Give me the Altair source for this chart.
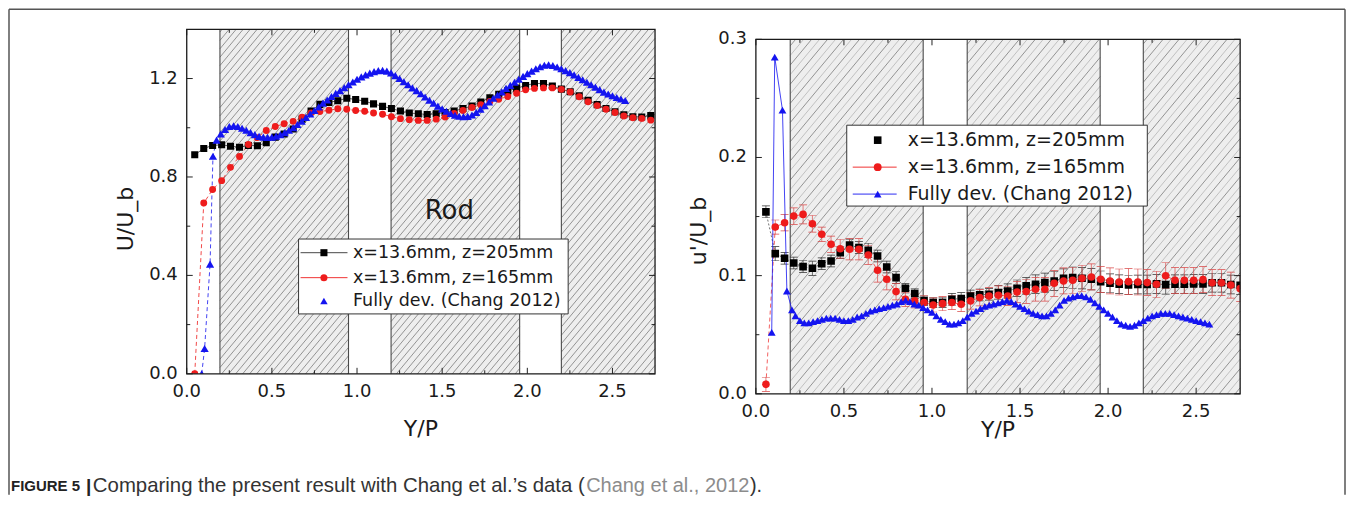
import altair as alt
import numpy as np
import pandas as pd

FONT = "DejaVu Sans"
TXT = "#1a1a1a"

# ---------------- data: left panel (U/U_b) ----------------
yp_exp_u = [0.047, 0.100, 0.152, 0.205, 0.257, 0.310, 0.362, 0.415, 0.467, 0.520,
            0.572, 0.625, 0.677, 0.730, 0.782, 0.835, 0.887, 0.940, 0.992, 1.045,
            1.097, 1.150, 1.202, 1.255, 1.307, 1.360, 1.412, 1.465, 1.517, 1.570,
            1.622, 1.675, 1.727, 1.780, 1.832, 1.885, 1.937, 1.990, 2.042, 2.095,
            2.147, 2.200, 2.252, 2.305, 2.357, 2.410, 2.462, 2.515, 2.567, 2.620,
            2.672, 2.725]
u_z205 = [0.890, 0.916, 0.928, 0.931, 0.925, 0.921, 0.928, 0.927, 0.939, 0.962,
          0.975, 0.995, 1.035, 1.068, 1.095, 1.103, 1.110, 1.120, 1.115, 1.108,
          1.097, 1.087, 1.078, 1.068, 1.060, 1.057, 1.054, 1.057, 1.062, 1.068,
          1.078, 1.088, 1.105, 1.122, 1.136, 1.150, 1.160, 1.172, 1.180, 1.180,
          1.170, 1.157, 1.146, 1.130, 1.112, 1.094, 1.078, 1.065, 1.053, 1.045,
          1.044, 1.050]
u_z165 = [0.000, 0.694, 0.749, 0.785, 0.839, 0.883, 0.932, 0.960, 0.989, 1.005,
          1.016, 1.026, 1.043, 1.060, 1.066, 1.071, 1.077, 1.075, 1.070, 1.067,
          1.060, 1.055, 1.045, 1.037, 1.033, 1.030, 1.030, 1.035, 1.044, 1.058,
          1.070, 1.082, 1.094, 1.107, 1.116, 1.127, 1.140, 1.154, 1.160, 1.162,
          1.162, 1.156, 1.145, 1.126, 1.106, 1.090, 1.075, 1.062, 1.048, 1.041,
          1.038, 1.031]
yp_chang_u = [0.088, 0.105, 0.137, 0.154,
              0.175, 0.200, 0.225, 0.250, 0.275, 0.300, 0.325, 0.350, 0.375, 0.400,
              0.425, 0.450, 0.475, 0.500, 0.525, 0.550, 0.575, 0.600, 0.625, 0.650,
              0.675, 0.700, 0.725, 0.750, 0.775, 0.800, 0.825, 0.850, 0.875, 0.900,
              0.925, 0.950, 0.975, 1.000, 1.025, 1.050, 1.075, 1.100, 1.125, 1.150,
              1.175, 1.200, 1.225, 1.250, 1.275, 1.300, 1.325, 1.350, 1.375, 1.400,
              1.425, 1.450, 1.475, 1.500, 1.525, 1.550, 1.575, 1.600, 1.625, 1.650,
              1.675, 1.700, 1.725, 1.750, 1.775, 1.800, 1.825, 1.850, 1.875, 1.900,
              1.925, 1.950, 1.975, 2.000, 2.025, 2.050, 2.075, 2.100, 2.125, 2.150,
              2.175, 2.200, 2.225, 2.250, 2.275, 2.300, 2.325, 2.350, 2.375, 2.400,
              2.425, 2.450, 2.475, 2.500, 2.525, 2.550, 2.575]
u_chang = [0.000, 0.103, 0.446, 0.884,
           0.950, 0.975, 0.993, 1.005, 1.008, 1.005, 0.998, 0.990, 0.980, 0.972,
           0.965, 0.962, 0.961, 0.962, 0.966, 0.972, 0.980, 0.990, 1.000, 1.013,
           1.027, 1.042, 1.056, 1.070, 1.085, 1.100, 1.113, 1.127, 1.140, 1.151,
           1.163, 1.175, 1.186, 1.197, 1.207, 1.215, 1.222, 1.228, 1.232, 1.233,
           1.230, 1.223, 1.212, 1.200, 1.187, 1.175, 1.162, 1.151, 1.138, 1.125,
           1.112, 1.100, 1.088, 1.077, 1.067, 1.058, 1.051, 1.047, 1.045, 1.046,
           1.052, 1.062, 1.075, 1.090, 1.105, 1.120, 1.133, 1.146, 1.160, 1.172,
           1.185, 1.197, 1.209, 1.220, 1.230, 1.240, 1.248, 1.254, 1.256, 1.253,
           1.247, 1.240, 1.232, 1.224, 1.215, 1.205, 1.195, 1.185, 1.175, 1.165,
           1.155, 1.145, 1.137, 1.130, 1.123, 1.117, 1.111]

# ---------------- data: right panel (u'/U_b) ----------------
yp_exp_up = [0.057, 0.110, 0.163, 0.215, 0.268, 0.321, 0.374, 0.427, 0.479, 0.532,
             0.585, 0.638, 0.691, 0.743, 0.796, 0.849, 0.902, 0.955, 1.007, 1.060,
             1.113, 1.166, 1.219, 1.271, 1.324, 1.377, 1.430, 1.483, 1.535, 1.588,
             1.641, 1.694, 1.747, 1.799, 1.852, 1.905, 1.958, 2.011, 2.063, 2.116,
             2.169, 2.222, 2.275, 2.327, 2.380, 2.433, 2.486, 2.539, 2.591, 2.644,
             2.697, 2.750]
up_z205 = [0.1540, 0.1186, 0.1147, 0.1107, 0.1076, 0.1062, 0.1101, 0.1124, 0.1194, 0.1259,
           0.1237, 0.1214, 0.1166, 0.1073, 0.0983, 0.0893, 0.0848, 0.0786, 0.0772, 0.0772,
           0.0800, 0.0806, 0.0828, 0.0837, 0.0842, 0.0856, 0.0870, 0.0893, 0.0913, 0.0927,
           0.0941, 0.0955, 0.0978, 0.0983, 0.0978, 0.0969, 0.0949, 0.0935, 0.0927, 0.0921,
           0.0925, 0.0925, 0.0930, 0.0924, 0.0927, 0.0927, 0.0930, 0.0930, 0.0940, 0.0940,
           0.0925, 0.0919]
up_z205_err = [0.005, 0.006, 0.005, 0.005, 0.005, 0.006, 0.005, 0.005, 0.005, 0.005,
               0.005, 0.006, 0.005, 0.005, 0.005, 0.004, 0.004, 0.004, 0.004, 0.004,
               0.005, 0.005, 0.005, 0.005, 0.005, 0.006, 0.006, 0.007, 0.007, 0.008,
               0.008, 0.008, 0.008, 0.009, 0.009, 0.009, 0.009, 0.008, 0.008, 0.008,
               0.008, 0.008, 0.008, 0.008, 0.008, 0.008, 0.008, 0.008, 0.008, 0.008,
               0.008, 0.008]
up_z165 = [0.0080, 0.1411, 0.1448, 0.1504, 0.1518, 0.1439, 0.1350, 0.1265, 0.1228, 0.1223,
           0.1223, 0.1175, 0.1045, 0.0969, 0.0865, 0.0800, 0.0786, 0.0772, 0.0752, 0.0763,
           0.0772, 0.0758, 0.0786, 0.0814, 0.0828, 0.0834, 0.0828, 0.0862, 0.0865, 0.0885,
           0.0885, 0.0935, 0.0955, 0.0961, 0.0978, 0.0989, 0.0969, 0.0955, 0.0946, 0.0949,
           0.0946, 0.0941, 0.0927, 0.0999, 0.0960, 0.0960, 0.0960, 0.0966, 0.0940, 0.0940,
           0.0920, 0.0890]
up_z165_err = [0.006, 0.006, 0.007, 0.007, 0.008, 0.007, 0.006, 0.007, 0.008, 0.009,
               0.009, 0.008, 0.010, 0.009, 0.007, 0.006, 0.006, 0.006, 0.006, 0.006,
               0.006, 0.006, 0.007, 0.007, 0.007, 0.008, 0.008, 0.009, 0.010, 0.010,
               0.010, 0.011, 0.011, 0.011, 0.011, 0.011, 0.011, 0.011, 0.011, 0.011,
               0.011, 0.011, 0.011, 0.011, 0.011, 0.011, 0.011, 0.011, 0.011, 0.011,
               0.011, 0.011]
yp_chang_up = [0.090, 0.107, 0.151, 0.176, 0.205,
               0.225, 0.250, 0.275, 0.300, 0.325, 0.350, 0.375, 0.400, 0.425, 0.450,
               0.475, 0.500, 0.525, 0.550, 0.575, 0.600, 0.625, 0.650, 0.675, 0.700,
               0.725, 0.750, 0.775, 0.800, 0.825, 0.850, 0.875, 0.900, 0.925, 0.950,
               0.975, 1.000, 1.025, 1.050, 1.075, 1.100, 1.125, 1.150, 1.175, 1.200,
               1.225, 1.250, 1.275, 1.300, 1.325, 1.350, 1.375, 1.400, 1.425, 1.450,
               1.475, 1.500, 1.525, 1.550, 1.575, 1.600, 1.625, 1.650, 1.675, 1.700,
               1.725, 1.750, 1.775, 1.800, 1.825, 1.850, 1.875, 1.900, 1.925, 1.950,
               1.975, 2.000, 2.025, 2.050, 2.075, 2.100, 2.125, 2.150, 2.175, 2.200,
               2.225, 2.250, 2.275, 2.300, 2.325, 2.350, 2.375, 2.400, 2.425, 2.450,
               2.475, 2.500, 2.525, 2.550, 2.575]
up_chang = [0.052, 0.285, 0.240, 0.087, 0.071,
            0.066, 0.062, 0.060, 0.060, 0.061, 0.062, 0.063, 0.064, 0.064, 0.064,
            0.063, 0.062, 0.062, 0.063, 0.065, 0.066, 0.068, 0.070, 0.071, 0.072,
            0.073, 0.074, 0.075, 0.076, 0.078, 0.079, 0.078, 0.076, 0.075, 0.073,
            0.071, 0.069, 0.066, 0.063, 0.061, 0.059, 0.059, 0.060, 0.062, 0.065,
            0.068, 0.070, 0.072, 0.074, 0.075, 0.076, 0.077, 0.078, 0.079, 0.078,
            0.076, 0.074, 0.072, 0.070, 0.068, 0.067, 0.066, 0.066, 0.068, 0.071,
            0.075, 0.079, 0.081, 0.082, 0.083, 0.083, 0.082, 0.080, 0.077, 0.074,
            0.071, 0.068, 0.065, 0.062, 0.059, 0.058, 0.057, 0.058, 0.060, 0.062,
            0.064, 0.066, 0.067, 0.068, 0.068, 0.068, 0.067, 0.066, 0.065, 0.064,
            0.063, 0.062, 0.061, 0.060, 0.059]

# ---------------- shared categories / ticks / labels ----------------
rod_zones = [[0.195, 0.950], [1.200, 1.955], [2.200, 2.750]]
zone_edges = [0.195, 0.950, 1.200, 1.955, 2.200]
x_labels = [0.0, 0.5, 1.0, 1.5, 2.0, 2.5]
x_minor = [0.25, 0.75, 1.25, 1.75, 2.25]
u_labels = [0.0, 0.4, 0.8, 1.2]
u_minor = [0.2, 0.6, 1.0]
up_labels = [0.0, 0.1, 0.2, 0.3]
up_minor = [0.05, 0.15, 0.25]
series_names = ["x=13.6mm, z=205mm", "x=13.6mm, z=165mm", "Fully dev. (Chang 2012)"]
caption_parts = ["FIGURE 5", "|", "Comparing the present result with Chang et al.\u2019s data (",
                 "Chang et al., 2012", ")."]

XMAX = 2.75
BLACK, RED, BLUE = "#000000", "#ee1c1c", "#1414f0"
one = pd.DataFrame({"o": [0]})


def hatch_df(W, V, ymax, spacing, slope):
    kx, ky = W / XMAX, V / ymax
    reach = V / slope
    rows = []
    for a, b in rod_zones:
        ua, ub = a * kx, b * kx
        n0 = int(np.floor((ua - reach) / spacing))
        n1 = int(np.ceil(ub / spacing))
        for n in range(n0, n1 + 1):
            c = n * spacing
            u0, u1 = max(ua, c), min(ub, c + reach)
            if u1 - u0 > 0.3:
                rows.append({"x": u0 / kx, "y": slope * (u0 - c) / ky,
                             "x2": u1 / kx, "y2": slope * (u1 - c) / ky, "k": n % 2})
    return pd.DataFrame(rows)


def txt(x, y, text, size, align="left", color=TXT, font=FONT, weight="normal", angle=0):
    return alt.Chart(one).mark_text(text=text, fontSize=size, font=font, align=align,
                                    baseline="middle", color=color, fontWeight=weight,
                                    angle=angle).encode(x=alt.value(x), y=alt.value(y))


def sym(x, y, shape, color, size):
    return alt.Chart(one).mark_point(shape=shape, filled=True, size=size, color=color,
                                     opacity=1).encode(x=alt.value(x), y=alt.value(y))


def hline(x1, x2, y, color, width=0.9):
    return alt.Chart(one).mark_rule(color=color, strokeWidth=width).encode(
        x=alt.value(x1), x2=alt.value(x2), y=alt.value(y))


def vline(x, y1, y2, color, width=1.5):
    return alt.Chart(one).mark_rule(color=color, strokeWidth=width).encode(
        x=alt.value(x), y=alt.value(y1), y2=alt.value(y2))


def base_layers(W, H, top, ymax, ylabels, yminor, ytitle, ytx, yty, xty, spacing, light):
    xs = alt.Scale(domain=[0, XMAX], nice=False, zero=False)
    ys = alt.Scale(domain=[0, ymax], range=[H, top], nice=False, zero=False)
    zones = pd.DataFrame({"a": [z[0] for z in rod_zones], "b": [z[1] for z in rod_zones],
                          "y0": [0.0] * 3, "y1": [ymax] * 3})
    back = [alt.Chart(zones).mark_rect(fill="#eeeeee").encode(
        x=alt.X("a:Q", scale=xs, axis=None), x2="b",
        y=alt.Y("y0:Q", scale=ys, axis=None), y2="y1")]
    hd = hatch_df(W, H - top, ymax, spacing, 1.2)
    for k, col in [(0, "#7c7c7c"), (1, light)]:
        back.append(alt.Chart(hd[hd.k == k]).mark_rule(color=col, strokeWidth=0.8).encode(
            x=alt.X("x:Q", scale=xs, axis=None), x2="x2",
            y=alt.Y("y:Q", scale=ys, axis=None), y2="y2"))
    back.append(alt.Chart(pd.DataFrame({"e": zone_edges})).mark_rule(
        color="#4a4a4a", strokeWidth=1.1).encode(
        x=alt.X("e:Q", scale=xs, axis=None), y=alt.value(top), y2=alt.value(H)))

    front = []
    # inward ticks on all four sides
    for vals, L in [(x_labels, 6), (x_minor, 3.5)]:
        d = pd.DataFrame({"t": vals})
        front.append(alt.Chart(d).mark_rule(color="#222", strokeWidth=1).encode(
            x=alt.X("t:Q", scale=xs, axis=None), y=alt.value(H), y2=alt.value(H - L)))
        front.append(alt.Chart(d).mark_rule(color="#222", strokeWidth=1).encode(
            x=alt.X("t:Q", scale=xs, axis=None), y=alt.value(top), y2=alt.value(top + L)))
    for vals, L in [(ylabels, 6), (yminor, 3.5)]:
        d = pd.DataFrame({"t": vals})
        front.append(alt.Chart(d).mark_rule(color="#222", strokeWidth=1).encode(
            y=alt.Y("t:Q", scale=ys, axis=None), x=alt.value(0), x2=alt.value(L)))
        front.append(alt.Chart(d).mark_rule(color="#222", strokeWidth=1).encode(
            y=alt.Y("t:Q", scale=ys, axis=None), x=alt.value(W - L), x2=alt.value(W)))
    front.append(alt.Chart(one).mark_rect(filled=False, color="#1a1a1a", strokeWidth=1.3).encode(
        x=alt.value(0), x2=alt.value(W), y=alt.value(top), y2=alt.value(H)))
    # tick labels placed through the scales
    xl = pd.DataFrame({"t": x_labels, "lab": [f"{v:.1f}" for v in x_labels]})
    yl = pd.DataFrame({"t": ylabels, "lab": [f"{v:.1f}" for v in ylabels]})
    front.append(alt.Chart(xl).mark_text(fontSize=18, font=FONT, color=TXT, align="center",
                                         baseline="middle").encode(
        x=alt.X("t:Q", scale=xs, axis=None), y=alt.value(H + 18.5), text="lab:N"))
    front.append(alt.Chart(yl).mark_text(fontSize=18, font=FONT, color=TXT, align="right",
                                         baseline="middle").encode(
        y=alt.Y("t:Q", scale=ys, axis=None), x=alt.value(-9), text="lab:N"))
    # axis titles
    front.append(txt(W / 2, H + xty, "Y/P", 22, align="center"))
    front.append(txt(ytx, yty, ytitle, 22, align="center", angle=270))
    return xs, ys, back, front


# ---------------- left panel ----------------
WL, HL = 469, 345
xs, ys, back, front = base_layers(WL, HL, 0, 1.4, u_labels, u_minor, "U/U_b",
                                  -61, 190, 55.5, 7.0, "#7c7c7c")
dl = pd.DataFrame({"yp": yp_exp_u, "z205": u_z205, "z165": u_z165})
dcl = pd.DataFrame({"yp": yp_chang_u, "u": u_chang})
X = alt.X("yp:Q", scale=xs, axis=None)
data_l = [
    alt.Chart(dl).mark_line(color="#333", strokeWidth=0.8, clip=True).encode(
        x=X, y=alt.Y("z205:Q", scale=ys, axis=None)),
    alt.Chart(dl).mark_line(color=RED, strokeWidth=0.8, strokeDash=[4, 3], clip=True).encode(
        x=X, y=alt.Y("z165:Q", scale=ys, axis=None)),
    alt.Chart(dcl).mark_line(color=BLUE, strokeWidth=0.8, strokeDash=[4, 3], clip=True).encode(
        x=X, y=alt.Y("u:Q", scale=ys, axis=None)),
    alt.Chart(dl).mark_point(shape="square", filled=True, size=50, color=BLACK, opacity=1,
                             clip=True).encode(x=X, y=alt.Y("z205:Q", scale=ys, axis=None)),
    alt.Chart(dl).mark_point(shape="circle", filled=True, size=48, color=RED, opacity=1,
                             clip=True).encode(x=X, y=alt.Y("z165:Q", scale=ys, axis=None)),
    alt.Chart(dcl).mark_point(shape="triangle-up", filled=True, size=68, color=BLUE, opacity=1,
                              clip=True).encode(x=X, y=alt.Y("u:Q", scale=ys, axis=None)),
]
leg_l = [
    alt.Chart(one).mark_rect(fill="white", stroke="#333", strokeWidth=1).encode(
        x=alt.value(112), x2=alt.value(382), y=alt.value(210), y2=alt.value(285)),
    hline(114, 161, 223.7, "#333"), sym(137.4, 223.7, "square", BLACK, 50),
    hline(114, 161, 248.7, RED), sym(137.4, 248.7, "circle", RED, 50),
    sym(137.4, 272, "triangle-up", BLUE, 55),
    txt(166.5, 223.7, series_names[0], 17.5),
    txt(166.5, 248.7, series_names[1], 17.5),
    txt(166.5, 272, series_names[2], 17.5),
    txt(263, 182, "Rod", 26, align="center"),
]
# figure border and caption (positioned relative to the left plot)
CAP = "Liberation Sans, Arial, sans-serif"
deco = [
    hline(-178, 1160, -20, "#555", 1.5),
    vline(-178, -20, 466, "#555"),
    vline(1160, -20, 466, "#555"),
    txt(-176, 457, caption_parts[0], 15, font="Liberation Sans Narrow, Liberation Sans",
        weight="bold", color="#222"),
    txt(-101, 457, caption_parts[1], 19, color="#222", font=CAP, weight="bold"),
    txt(-94, 457, caption_parts[2], 20.4, color="#333", font=CAP),
    txt(400, 457, caption_parts[3], 20, color="#8c8c8c", font=CAP),
    txt(564, 457, caption_parts[4], 20, color="#333", font=CAP),
]
left = alt.layer(*(back + data_l + front + leg_l + deco)).properties(width=WL, height=HL)

# ---------------- right panel ----------------
WR, HR, TOPR = 485, 365, 10
xs, ys, back, front = base_layers(WR, HR, TOPR, 0.3, up_labels, up_minor, "u'/U_b",
                                  -57, 202, 36, 8.0, "#b5b5b5")
dr = pd.DataFrame({"yp": yp_exp_up, "z205": up_z205, "z165": up_z165,
                   "e205": up_z205_err, "e165": up_z165_err})
dr["lo205"] = dr.z205 - dr.e205
dr["hi205"] = dr.z205 + dr.e205
dr["lo165"] = dr.z165 - dr.e165
dr["hi165"] = dr.z165 + dr.e165
dcr = pd.DataFrame({"yp": yp_chang_up, "u": up_chang})
X = alt.X("yp:Q", scale=xs, axis=None)


def Yr(f):
    return alt.Y(f, scale=ys, axis=None)


data_r = []
for lo, hi, col in [("lo205:Q", "hi205", "#333"), ("lo165:Q", "hi165", "#d94a4a")]:
    data_r.append(alt.Chart(dr).mark_rule(color=col, strokeWidth=0.7, clip=True).encode(
        x=X, y=Yr(lo), y2=hi))
    for f in [lo, hi + ":Q"]:
        data_r.append(alt.Chart(dr).mark_tick(orient="horizontal", size=8, thickness=0.7,
                                              color=col, opacity=1, clip=True).encode(
            x=X, y=Yr(f)))
data_r += [
    alt.Chart(dr).mark_line(color="#333", strokeWidth=0.7, strokeDash=[2, 2], clip=True).encode(
        x=X, y=Yr("z205:Q")),
    alt.Chart(dr).mark_line(color=RED, strokeWidth=0.7, strokeDash=[4, 3], clip=True).encode(
        x=X, y=Yr("z165:Q")),
    alt.Chart(dcr).mark_line(color=BLUE, strokeWidth=0.8, clip=True).encode(
        x=X, y=Yr("u:Q")),
    alt.Chart(dr).mark_point(shape="square", filled=True, size=58, color=BLACK, opacity=1,
                             clip=True).encode(x=X, y=Yr("z205:Q")),
    alt.Chart(dr).mark_point(shape="circle", filled=True, size=58, color=RED, opacity=1,
                             clip=True).encode(x=X, y=Yr("z165:Q")),
    alt.Chart(dcr).mark_point(shape="triangle-up", filled=True, size=62, color=BLUE, opacity=1,
                              clip=True).encode(x=X, y=Yr("u:Q")),
]
leg_r = [
    alt.Chart(one).mark_rect(fill="white", stroke="#333", strokeWidth=1).encode(
        x=alt.value(91), x2=alt.value(392), y=alt.value(96), y2=alt.value(177)),
    sym(122, 111, "square", BLACK, 58),
    hline(97, 141, 138, RED), sym(122, 138, "circle", RED, 62),
    hline(97, 141, 165, BLUE), sym(122, 165, "triangle-up", BLUE, 58),
    txt(152, 111, series_names[0], 19),
    txt(152, 138, series_names[1], 19),
    txt(152, 165, series_names[2], 19),
]
right = alt.layer(*(back + data_r + front + leg_r)).properties(width=WR, height=HR)

chart = alt.hconcat(left, right, spacing=101, bounds="flush").properties(
    padding=0).configure_view(strokeWidth=0)
chart.save("out.html", embed_options={"renderer": "svg", "actions": False})
